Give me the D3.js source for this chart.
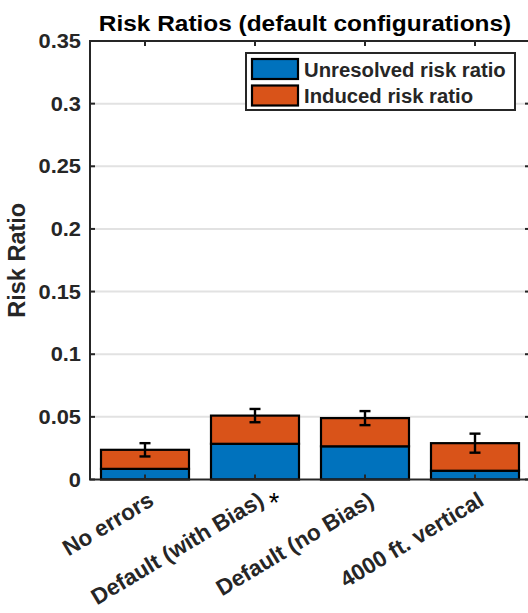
<!DOCTYPE html>
<html>
<head>
<meta charset="utf-8">
<script src="https://cdn.jsdelivr.net/npm/d3@7"></script>
<style>
  html, body { margin: 0; padding: 0; background: #fff; }
  svg { display: block; font-family: "Liberation Sans", Arial, Helvetica, sans-serif; }
</style>
</head>
<body>
<div id="chart"></div>
<script>
// Chart data
const categories = ["No errors", "Default (with Bias)", "Default (no Bias)", "4000 ft. vertical"];
const unresolved = [0.0085, 0.0285, 0.0265, 0.0070];
const induced    = [0.0152, 0.0225, 0.0225, 0.0220];
const errHalf    = [0.0053, 0.0053, 0.0056, 0.0076];
const seriesNames = ["Unresolved risk ratio", "Induced risk ratio"];
const yTicks = [0, 0.05, 0.1, 0.15, 0.2, 0.25, 0.3, 0.35];
const yTickLabels = ["0", "0.05", "0.1", "0.15", "0.2", "0.25", "0.3", "0.35"];
const colors = ["#0072BD", "#D95319"];

const W = 528, H = 613;
const plot = { left: 90, right: 530, top: 41, bottom: 479.5 };
const axisColor = "#262626";

const svg = d3.select("#chart").append("svg")
  .attr("width", W).attr("height", H);

const x = d3.scaleBand()
  .domain(categories)
  .range([plot.left, plot.right])
  .paddingInner(0.2)
  .paddingOuter(0.1);

const y = d3.scaleLinear()
  .domain([0, 0.35])
  .range([plot.bottom, plot.top]);

// Stack the two series
const rows = categories.map((c, i) => ({ cat: c, u: unresolved[i], d: induced[i] }));
const stacked = d3.stack().keys(["u", "d"])(rows);

// Horizontal grid
svg.append("g").selectAll("line")
  .data(yTicks.slice(1))
  .join("line")
  .attr("x1", plot.left).attr("x2", plot.right)
  .attr("y1", d => y(d)).attr("y2", d => y(d))
  .attr("stroke", "#e2e2e2").attr("stroke-width", 2);

// Stacked bars
svg.append("g").selectAll("g")
  .data(stacked)
  .join("g")
  .attr("fill", (d, i) => colors[i])
  .selectAll("rect")
  .data(d => d)
  .join("rect")
  .attr("x", d => x(d.data.cat))
  .attr("width", x.bandwidth())
  .attr("y", d => y(d[1]))
  .attr("height", d => y(d[0]) - y(d[1]))
  .attr("stroke", "#000")
  .attr("stroke-width", 2.2);

// Error bars on the totals
const eb = svg.append("g").attr("stroke", "#000").attr("stroke-width", 2.4);
rows.forEach((r, i) => {
  const cx = x(r.cat) + x.bandwidth() / 2;
  const tot = r.u + r.d;
  const y1 = y(tot + errHalf[i]), y2 = y(tot - errHalf[i]);
  eb.append("line").attr("x1", cx).attr("x2", cx).attr("y1", y1).attr("y2", y2);
  eb.append("line").attr("x1", cx - 5.5).attr("x2", cx + 5.5).attr("y1", y1).attr("y2", y1);
  eb.append("line").attr("x1", cx - 5.5).attr("x2", cx + 5.5).attr("y1", y2).attr("y2", y2);
});

// Axes box and inward ticks
const ax = svg.append("g").attr("stroke", axisColor).attr("stroke-width", 2).attr("fill", "none");
ax.append("rect")
  .attr("x", plot.left).attr("y", plot.top)
  .attr("width", plot.right - plot.left).attr("height", plot.bottom - plot.top);
const tl = 5;
yTicks.forEach(t => {
  ax.append("line").attr("x1", plot.left).attr("x2", plot.left + tl).attr("y1", y(t)).attr("y2", y(t));
  ax.append("line").attr("x1", plot.right).attr("x2", plot.right - tl).attr("y1", y(t)).attr("y2", y(t));
});
categories.forEach(c => {
  const cx = x(c) + x.bandwidth() / 2;
  ax.append("line").attr("x1", cx).attr("x2", cx).attr("y1", plot.bottom).attr("y2", plot.bottom - tl);
  ax.append("line").attr("x1", cx).attr("x2", cx).attr("y1", plot.top).attr("y2", plot.top + tl);
});

// Y tick labels
svg.append("g").selectAll("text")
  .data(yTicks)
  .join("text")
  .attr("transform", d => `translate(81,${y(d)}) scale(1.12,1)`)
  .attr("text-anchor", "end")
  .attr("dy", "0.36em")
  .attr("font-size", 19.5)
  .attr("font-weight", "bold")
  .attr("fill", axisColor)
  .text((d, i) => yTickLabels[i]);

// X tick labels (rotated)
svg.append("g").selectAll("text")
  .data(categories)
  .join("text")
  .attr("transform", d => `translate(${x(d) + x.bandwidth() / 2 + 2},${plot.bottom + 11}) rotate(-31)`)
  .attr("text-anchor", "end")
  .attr("dy", "0.72em")
  .attr("font-size", 22.5)
  .attr("font-weight", "bold")
  .attr("fill", axisColor)
  .text(d => d);

// Significance marker
svg.append("text")
  .attr("x", 274).attr("y", 512)
  .attr("text-anchor", "middle")
  .attr("font-size", 27)
  .attr("fill", "#000")
  .text("*");

// Y axis title
svg.append("text")
  .attr("transform", `translate(25,${(plot.top + plot.bottom) / 2}) rotate(-90)`)
  .attr("text-anchor", "middle")
  .attr("font-size", 23.5)
  .attr("font-weight", "bold")
  .attr("fill", axisColor)
  .text("Risk Ratio");

// Title
svg.append("text")
  .attr("transform", "translate(305,30.5) scale(1.11,1)")
  .attr("text-anchor", "middle")
  .attr("font-size", 22)
  .attr("font-weight", "bold")
  .attr("fill", "#000")
  .text("Risk Ratios (default configurations)");

// Legend
const lg = svg.append("g");
lg.append("rect")
  .attr("x", 246).attr("y", 53).attr("width", 269).attr("height", 57)
  .attr("fill", "#fff").attr("stroke", axisColor).attr("stroke-width", 2);
seriesNames.forEach((name, i) => {
  const ry = 59 + i * 26.5;
  lg.append("rect")
    .attr("x", 252).attr("y", ry).attr("width", 46).attr("height", 20)
    .attr("fill", colors[i]).attr("stroke", "#000").attr("stroke-width", 2.2);
  lg.append("text")
    .attr("x", 304).attr("y", ry + 17.5)
    .attr("font-size", 20.3)
    .attr("font-weight", "bold")
    .attr("fill", axisColor)
    .text(name);
});
</script>
</body>
</html>
